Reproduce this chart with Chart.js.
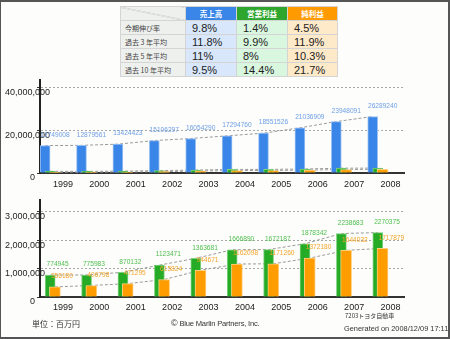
<!DOCTYPE html>
<html>
<head>
<meta charset="utf-8">
<script src="https://cdn.jsdelivr.net/npm/chart.js@4.4.1/dist/chart.umd.min.js"></script>
<style>
  html, body { margin: 0; padding: 0; }
  body {
    width: 450px; height: 339px; position: relative; overflow: hidden;
    background: #fdfdfb;
    font-family: "Liberation Sans", Arial, sans-serif;
  }
  #frame {
    position: absolute; left: 0; top: 0; width: 450px; height: 339px;
    box-sizing: border-box; border: 2px solid #555; border-left-width: 1px;
    pointer-events: none;
  }
  #summary {
    position: absolute; left: 120px; top: 6px;
    border-collapse: collapse; table-layout: fixed;
  }
  #summary td, #summary th {
    height: 13px; padding: 0 0 0 6px; border: 1px solid #d4d4d4;
    font-size: 11px; font-weight: normal; color: #222; text-align: left;
    line-height: 12px; white-space: nowrap;
  }
  #summary th { color: #fff; font-weight: bold; font-size: 7.5px; text-align: center; padding: 0;
    font-family: "Noto Sans CJK JP", sans-serif; }
  #summary .corner {
    background: linear-gradient(to top right, #eef0ee calc(50% - 0.6px), #bbb 50%, #eef0ee calc(50% + 0.6px));
  }
  #summary .rowlab {
    background: #eef0ee; color: #444; font-size: 7px; padding-left: 4px;
    font-family: "Noto Sans CJK JP", sans-serif;
  }
  #summary .hb { background: #3a86e8; }
  #summary .hg { background: #2ea62e; }
  #summary .ho { background: #ff9a00; }
  #summary .cb { background: #d8e7fb; }
  #summary .cg { background: #d9f6df; }
  #summary .co { background: #fee9c9; }
  canvas { position: absolute; left: 0; }
  #topChart { top: 78px; }
  #bottomChart { top: 195px; }
  .foot { position: absolute; color: #333; white-space: nowrap; }
  #unit { left: 32px; top: 318px; font-size: 8px; font-family: "Noto Sans CJK JP", sans-serif; }
  #brand { left: 171px; top: 318px; font-size: 7.6px; letter-spacing: -0.2px; }
  #brand b { font-size: 9px; font-weight: normal; margin-right: 2px; }
  #code { left: 345px; top: 311px; font-size: 6px; font-family: "Noto Sans CJK JP", sans-serif; }
  #gen { left: 344px; top: 324px; font-size: 7.4px; }
</style>
</head>
<body>
<table id="summary">
  <colgroup><col style="width:65px"><col style="width:51px"><col style="width:51px"><col style="width:50px"></colgroup>
  <thead><tr><th class="corner"></th><th class="hb">売上高</th><th class="hg">営業利益</th><th class="ho">純利益</th></tr></thead>
  <tbody id="summaryBody"></tbody>
</table>

<canvas id="topChart" width="450" height="117"></canvas>
<canvas id="bottomChart" width="450" height="125"></canvas>

<div class="foot" id="unit">単位：百万円</div>
<div class="foot" id="brand"><b>©</b>Blue Marlin Partners, Inc.</div>
<div class="foot" id="code">7203トヨタ自動車</div>
<div class="foot" id="gen">Generated on 2008/12/09 17:11</div>
<div id="frame"></div>

<script>
// data
const years = ['1999', '2000', '2001', '2002', '2003', '2004', '2005', '2006', '2007', '2008'];
const sales = [12749008, 12879561, 13424423, 15106297, 16054290, 17294760, 18551526, 21036909, 23948091, 26289240];
const operatingIncome = [774945, 775983, 870132, 1123471, 1363681, 1666890, 1672187, 1878342, 2238683, 2270375];
const netIncome = [356180, 406798, 471295, 615824, 944671, 1162098, 1171260, 1372180, 1644032, 1717879];

const topTicks = [0, 20000000, 40000000];
const bottomTicks = [0, 1000000, 2000000, 3000000];

const rowLabels = ['今期伸び率', '過去 3 年平均', '過去 5 年平均', '過去 10 年平均'];
const salesRates = ['9.8%', '11.8%', '11%', '9.5%'];
const opRates = ['1.4%', '9.9%', '8%', '14.4%'];
const netRates = ['4.5%', '11.9%', '10.3%', '21.7%'];

// colours
const BLUE = '#3a86e8', GREEN = '#26ab26', ORANGE = '#ff9c00';
const FONT = '"Liberation Sans", Arial, sans-serif';

// summary table
(() => {
  const body = document.getElementById('summaryBody');
  rowLabels.forEach((lab, i) => {
    const tr = document.createElement('tr');
    tr.innerHTML = `<td class="rowlab">${lab}</td><td class="cb">${salesRates[i]}</td>` +
      `<td class="cg">${opRates[i]}</td><td class="co">${netRates[i]}</td>`;
    body.appendChild(tr);
  });
})();

// bar offsets inside each year slot (slot i spans i..i+1)
const OFF = { blue: 0.14, green: 0.28, orange: 0.41 };
const LABEL_OFF = { blue: 0.01, green: 0.18, orange: 0.30 };

const pts = (arr, off) => arr.map((v, i) => ({ x: i + off, y: v }));

// value labels above the bars
const valueLabels = {
  id: 'valueLabels',
  afterDatasetsDraw(chart, args, opts) {
    const { ctx } = chart;
    const xs = chart.scales.x, ys = chart.scales.y;
    ctx.save();
    ctx.font = '6.6px ' + FONT;
    ctx.textAlign = 'left';
    ctx.textBaseline = 'middle';
    for (const s of opts.series || []) {
      ctx.fillStyle = s.color;
      s.data.forEach((v, i) => {
        ctx.fillText(String(v), xs.getPixelForValue(i + s.dx), ys.getPixelForValue(v) - 10.5);
      });
    }
    ctx.restore();
  }
};

function barSet(data, off, color, edge, width, axis, order) {
  return {
    type: 'bar', data: pts(data, off), xAxisID: axis, order,
    backgroundColor: color, borderColor: edge, borderWidth: 1, borderSkipped: 'bottom',
    barThickness: width, maxBarThickness: width, grouped: false,
  };
}

function trendSet(data, off) {
  return {
    type: 'line', data: pts(data, off), xAxisID: 'x', order: 10,
    borderColor: '#9a9a9a', borderWidth: 1, borderDash: [3, 2],
    pointRadius: 0, fill: false, tension: 0,
  };
}

function buildScales(yMax, yTicks, xHeight, xPad) {
  // bar overrides turn on offset for index axes; these are plain linear slots
  const slotAxis = { type: 'linear', min: 0, max: 10, offset: false, display: false };
  return {
    x: {
      type: 'linear', min: 0, max: 10, offset: false,
      grid: { display: false, offset: false, drawTicks: false },
      border: { color: '#333', width: 2 },
      afterBuildTicks: s => { s.ticks = years.map((_, i) => ({ value: i + 0.63 })); },
      afterFit: s => { s.height = xHeight; s.paddingLeft = 0; s.paddingRight = 0; },
      ticks: {
        autoSkip: false, maxRotation: 0, padding: xPad, color: '#222',
        font: { family: FONT, size: 9 },
        callback: (v, i) => years[i],
      },
    },
    xg: { ...slotAxis },
    xo: { ...slotAxis },
    y: {
      min: 0, max: yMax,
      afterBuildTicks: s => { s.ticks = yTicks.map(v => ({ value: v })); },
      afterFit: s => { s.width = 35; s.paddingTop = 0; s.paddingBottom = 0; },
      grid: { color: '#a8a8a8', tickColor: '#333', tickLength: 3, lineWidth: 1 },
      border: { color: '#222', width: 2, dash: [2, 2] },
      ticks: {
        // mirror avoids the label clip, negative padding puts the text back at the left edge
        mirror: true, crossAlign: 'near', padding: -35, labelOffset: 5, color: '#222',
        font: { family: FONT, size: 9 },
        callback: v => v === 0 ? '\u2007'.repeat(5) + '0' : v.toLocaleString('en-US'),
      },
    },
  };
}

function baseOptions(scales, padTop, labelSeries) {
  return {
    responsive: false,
    animation: false,
    devicePixelRatio: 1,
    layout: { padding: { left: 5, right: 46, top: padTop, bottom: 0 } },
    plugins: {
      legend: { display: false },
      tooltip: { enabled: false },
      valueLabels: { series: labelSeries },
    },
    scales,
  };
}

new Chart(document.getElementById('topChart'), {
  data: {
    datasets: [
      barSet(sales, OFF.blue, BLUE, '#9cc2f2', 10, 'x', 3),
      barSet(operatingIncome, OFF.green, GREEN, '#7fd07f', 10, 'xg', 2),
      barSet(netIncome, OFF.orange, ORANGE, '#ffd080', 11, 'xo', 1),
      trendSet(sales, OFF.blue),
      trendSet(operatingIncome, OFF.green),
      trendSet(netIncome, OFF.orange),
    ]
  },
  options: baseOptions(buildScales(43300000, topTicks, 22, 6), 2, [
    { data: sales, dx: LABEL_OFF.blue, color: '#6d9fe6' },
  ]),
  plugins: [valueLabels],
});

new Chart(document.getElementById('bottomChart'), {
  data: {
    datasets: [
      barSet(operatingIncome, OFF.green, GREEN, '#7fd07f', 10, 'xg', 2),
      barSet(netIncome, OFF.orange, ORANGE, '#ffd080', 11, 'xo', 1),
      trendSet(operatingIncome, OFF.green),
      trendSet(netIncome, OFF.orange),
    ]
  },
  options: baseOptions(buildScales(3420000, bottomTicks, 23, 5), 5, [
    { data: operatingIncome, dx: LABEL_OFF.green, color: '#4fbf4f' },
    { data: netIncome, dx: LABEL_OFF.orange, color: '#f3a52c' },
  ]),
  plugins: [valueLabels],
});
</script>
</body>
</html>
